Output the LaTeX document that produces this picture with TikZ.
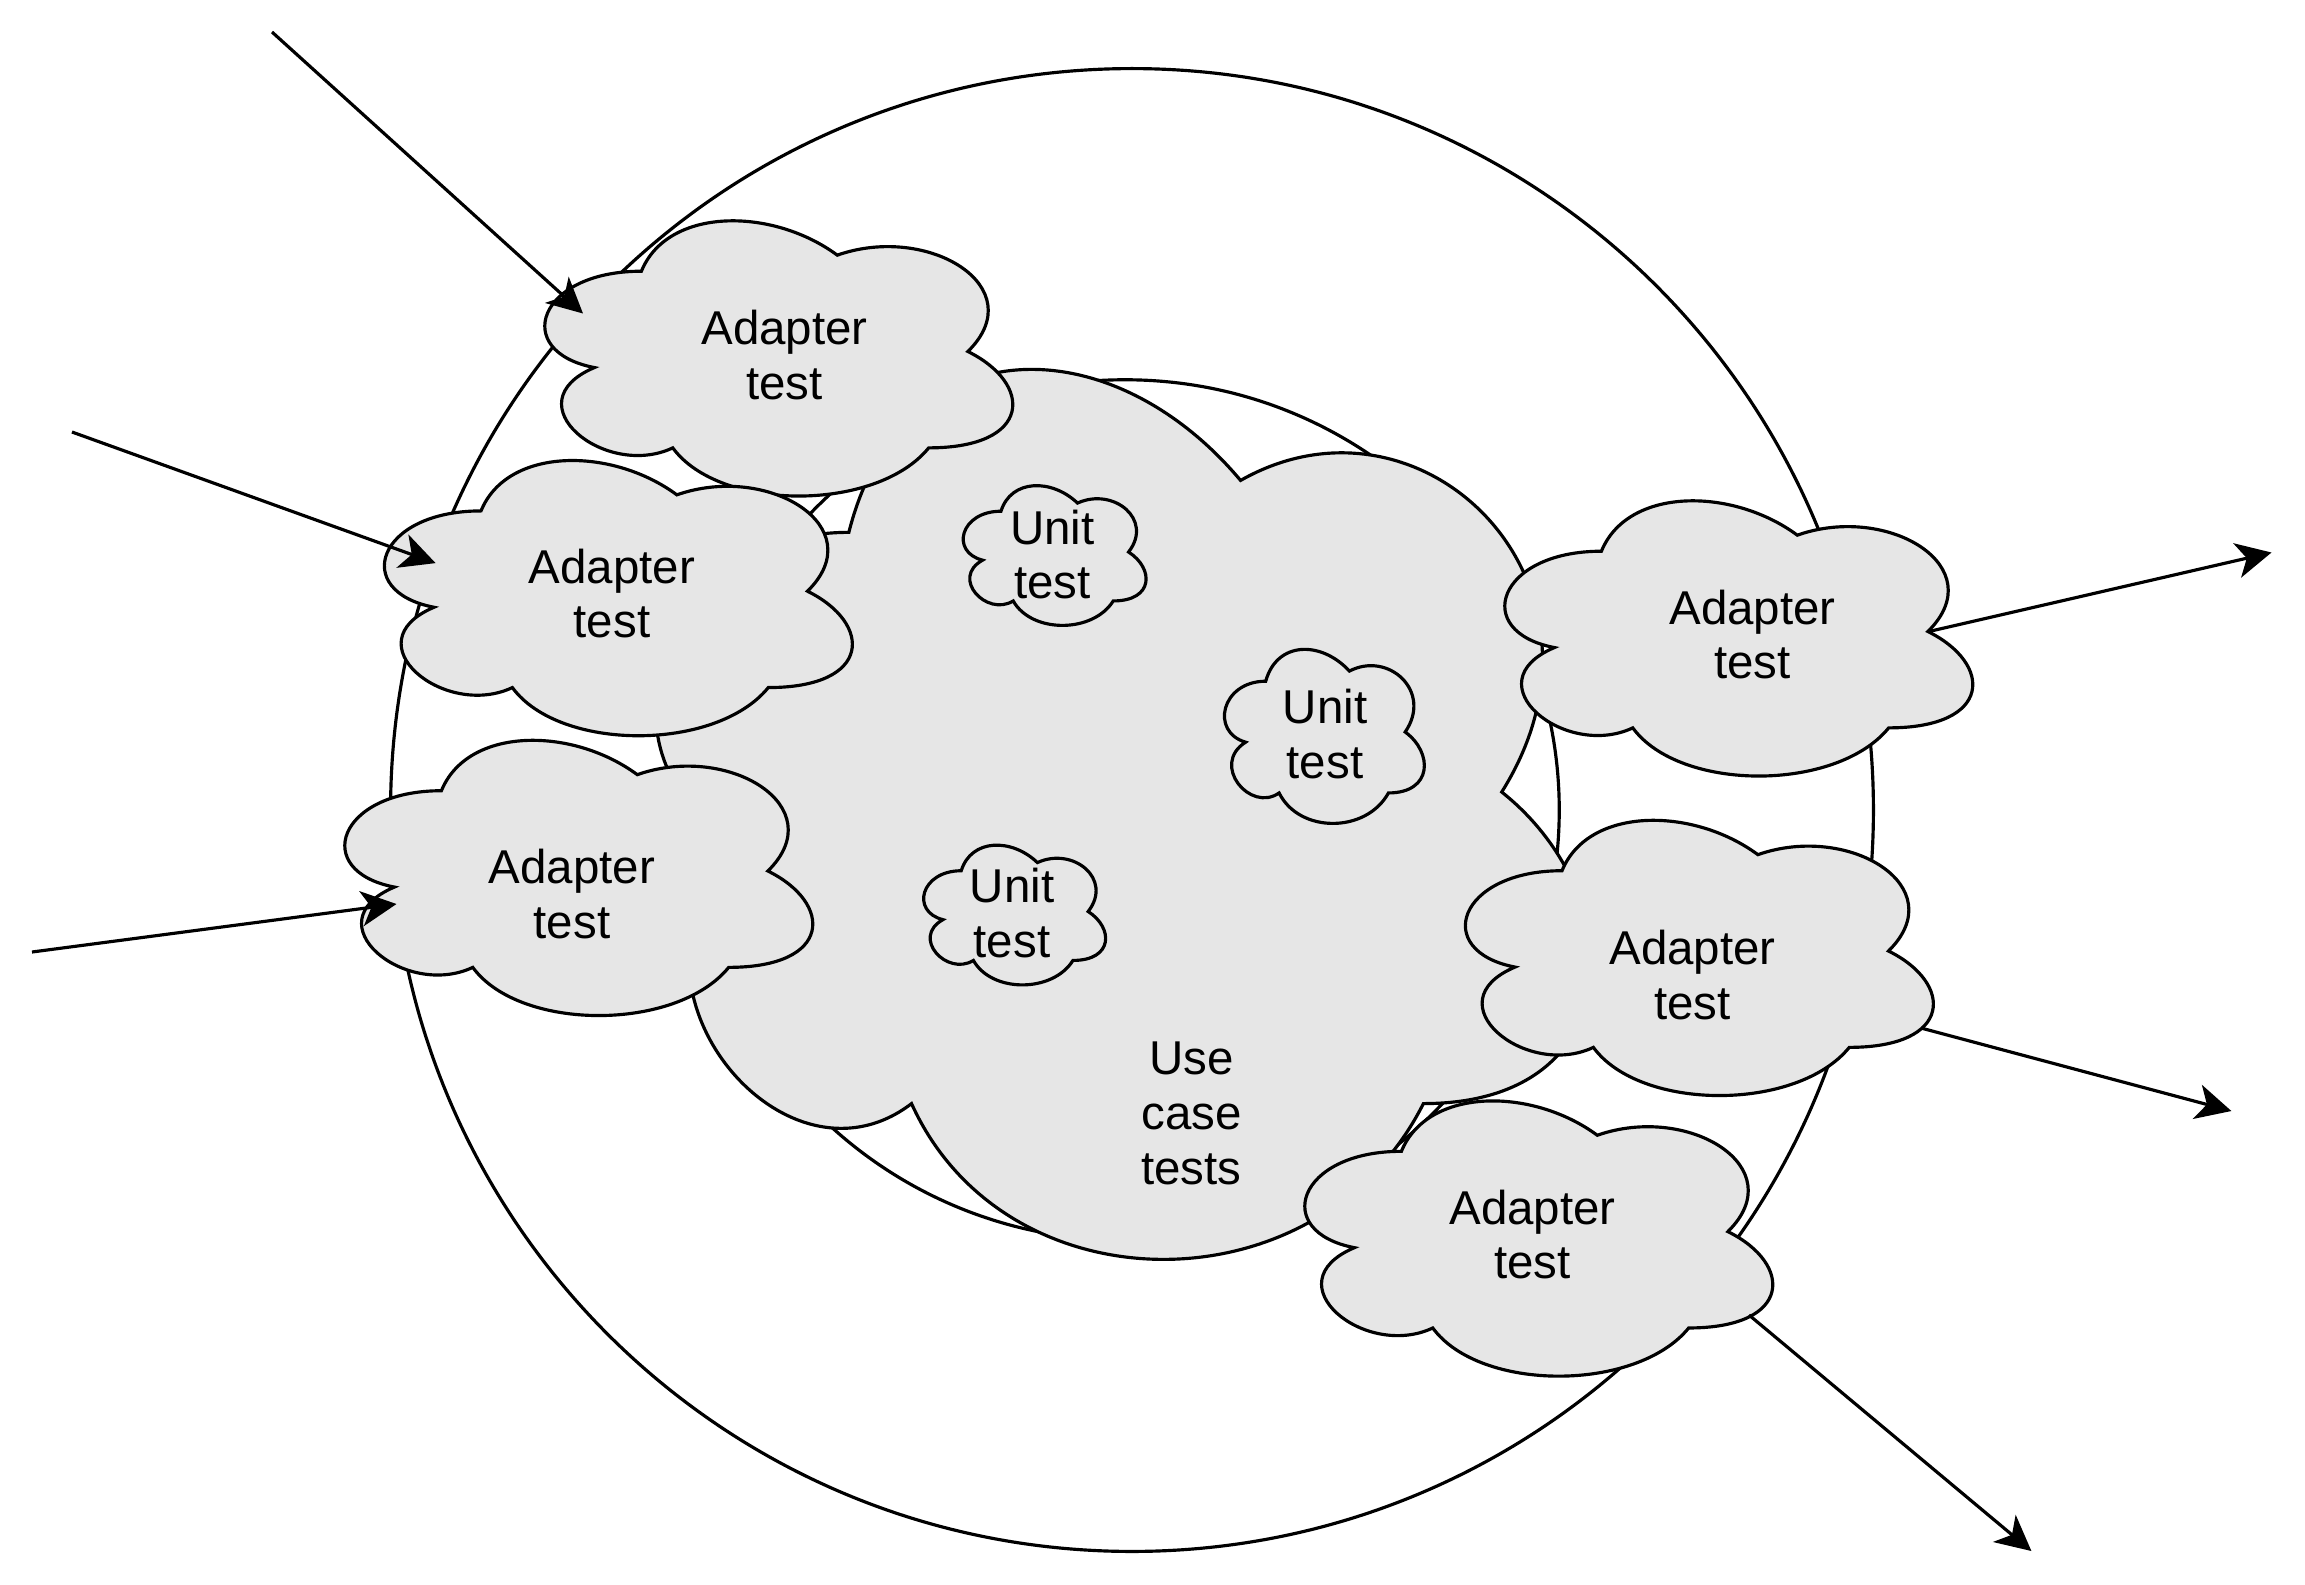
\documentclass[tikz,border=0pt]{standalone}
\usepackage{fontspec}
\setmainfont{Liberation Sans}
\usepackage{tikz}
\usetikzlibrary{arrows.meta}

\definecolor{cloudgray}{RGB}{230,230,230}

\tikzset{
  pics/cloud/.style 2 args={code={
    \draw[line width=0.9pt, fill=cloudgray, x=#1, y=-#2]
      (-0.25,-0.25) .. controls (-0.45,-0.25) and (-0.5,0) .. (-0.34,0.05)
      .. controls (-0.5,0.16) and (-0.32,0.4) .. (-0.19,0.3)
      .. controls (-0.1,0.5) and (0.2,0.5) .. (0.3,0.3)
      .. controls (0.5,0.3) and (0.5,0.1) .. (0.375,0)
      .. controls (0.5,-0.2) and (0.3,-0.4) .. (0.125,-0.3)
      .. controls (0,-0.45) and (-0.2,-0.45) .. cycle;
  }},
  pics/adapter/.style={code={\pic {cloud={5.22cm}{3.21cm}};}},
  lbl/.style={align=center, inner sep=0pt, font=\fontsize{13.5}{15.6}\selectfont},
  ring/.style={line width=0.9pt, fill=white},
  arr/.style={line width=0.9pt, -{Stealth[length=10pt, width=10pt, inset=2.8pt]}}
}

\begin{document}
\begin{tikzpicture}[x=0.01cm, y=-0.01cm]
  \fill[white, use as bounding box] (0,0) rectangle (2305,1584);

  % outer ring and inner ring
  \draw[ring] (1132,810) circle [radius=7.41cm];
  \draw[ring] (1125,810) ellipse [x radius=4.34cm, y radius=4.30cm];

  % use case cloud
  \pic at (1110,792) {cloud={10.44cm}{10.38cm}};

  % unit test clouds
  \pic at (1052,552) {cloud={2.04cm}{1.63cm}};
  \pic at (1321.5,732) {cloud={2.23cm}{2.03cm}};
  \pic at (1012,911.5) {cloud={2.03cm}{1.63cm}};

  % adapter clouds
  \pic at (772,351.5) {adapter};
  \pic at (611.6,591.2) {adapter};
  \pic at (572,871) {adapter};
  \pic at (1732,631.5) {adapter};
  \pic at (1692.6,951) {adapter};
  \pic at (1532,1231.6) {adapter};

  % texts
  \node[lbl] (uc) at (1191.5,1113.7) {Use\\case\\tests};
  \node[lbl] (ut1) at (1052.5,554.5) {Unit\\test};
  \node[lbl] (ut2) at (1325,734) {Unit\\test};
  \node[lbl] (ut3) at (1012,913.4) {Unit\\test};
  \node[lbl] (ad1) at (784.5,354.8) {Adapter\\test};
  \node[lbl] (ad2) at (612,593.5) {Adapter\\test};
  \node[lbl] (ad3) at (572,894.2) {Adapter\\test};
  \node[lbl] (ad4) at (1752.5,634.5) {Adapter\\test};
  \node[lbl] (ad5) at (1692.6,974.6) {Adapter\\test};
  \node[lbl] (ad6) at (1532.5,1234.5) {Adapter\\test};

  % incoming arrows
  \coordinate (in1) at (272,32);
  \coordinate (hit1) at (583,313.5);
  \coordinate (in2) at (72,432);
  \coordinate (hit2) at (435.6,563.1);
  \coordinate (in3) at (32,952);
  \coordinate (hit3) at (396.5,904);
  \draw[arr] (in1) -- (hit1);
  \draw[arr] (in2) -- (hit2);
  \draw[arr] (in3) -- (hit3);

  % outgoing arrows
  \coordinate (src4) at (1928,631.7);
  \coordinate (out4) at (2271.5,552.5);
  \coordinate (src5) at (1921,1028);
  \coordinate (out5) at (2231.4,1111);
  \coordinate (src6) at (1749,1315);
  \coordinate (out6) at (2031.4,1551);
  \draw[arr] (src4) -- (out4);
  \draw[arr] (src5) -- (out5);
  \draw[arr] (src6) -- (out6);
\end{tikzpicture}
\end{document}
